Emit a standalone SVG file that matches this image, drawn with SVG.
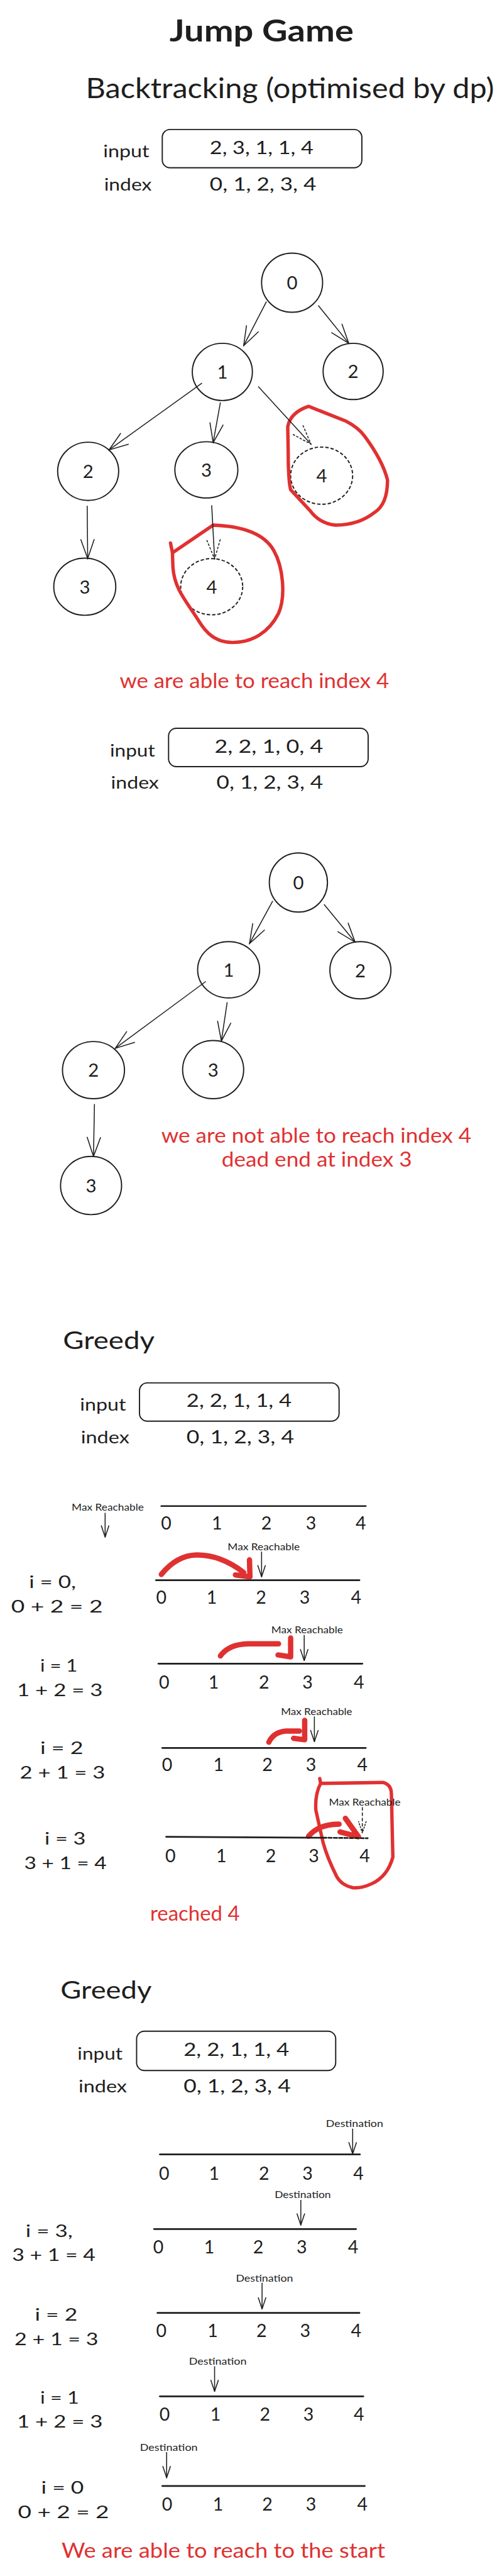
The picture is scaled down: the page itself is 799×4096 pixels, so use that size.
<svg xmlns="http://www.w3.org/2000/svg" width="799" height="4096" viewBox="0 0 799 4096">
<style>
.t{font-family:Lato,"Liberation Sans",sans-serif;fill:#1e1e1e}
.r{fill:#e03131}
.h1{font-size:62px;font-weight:bold}
.h2{font-size:58px}
.h3{font-size:50px}
.lab{font-size:34px}
.val{font-size:38px}
.nd{font-size:38px;text-anchor:middle}
.dg{font-size:37px;text-anchor:middle}
.eq{font-size:35px}
.sm{font-size:20px}
.msg{font-size:42px}
.node{fill:none;stroke:#1e1e1e;stroke-width:2.5}
.dash{stroke-dasharray:7 4}
.box{fill:none;stroke:#1e1e1e;stroke-width:2.5}
.conn{fill:none;stroke:#1e1e1e;stroke-width:2}
.nl{stroke:#1e1e1e;stroke-width:3.5;stroke-linecap:round}
.hl{fill:none;stroke:#e03131;stroke-width:7;stroke-linecap:round;stroke-linejoin:round}
.jump{fill:none;stroke:#e03131;stroke-width:11;stroke-linecap:round;stroke-linejoin:round}
</style>
<defs>
<marker id="ah" viewBox="0 0 44 32" refX="42" refY="16" markerWidth="44" markerHeight="32" orient="auto" markerUnits="userSpaceOnUse"><path d="M2,2 L42,16 L2,30" fill="none" stroke="#1e1e1e" stroke-width="2"/></marker>
<marker id="ahd" viewBox="0 0 44 32" refX="42" refY="16" markerWidth="44" markerHeight="32" orient="auto" markerUnits="userSpaceOnUse"><path d="M2,2 L42,16 L2,30" fill="none" stroke="#1e1e1e" stroke-width="2" stroke-dasharray="5 3"/></marker>
<marker id="ahs" viewBox="0 0 26 18" refX="25" refY="9" markerWidth="26" markerHeight="18" orient="auto" markerUnits="userSpaceOnUse"><path d="M1,1 L25,9 L1,17" fill="none" stroke="#1e1e1e" stroke-width="2"/></marker>
<marker id="ahsd" viewBox="0 0 26 18" refX="25" refY="9" markerWidth="26" markerHeight="18" orient="auto" markerUnits="userSpaceOnUse"><path d="M1,1 L25,9 L1,17" fill="none" stroke="#1e1e1e" stroke-width="2" stroke-dasharray="4 2"/></marker>
</defs>
<rect width="799" height="4096" fill="#ffffff"/>
<g transform="scale(0.771)">

<g id="titles">
<text class="t h1" x="540" y="85" text-anchor="middle" textLength="380" lengthAdjust="spacingAndGlyphs">Jump Game</text>
<text class="t h2" x="177" y="202" textLength="843" lengthAdjust="spacingAndGlyphs">Backtracking (optimised by dp)</text>
</g>

<g id="input1">
<rect class="box" x="335" y="267" width="412" height="79" rx="16"/>
<text class="t lab" x="213" y="324" textLength="95" lengthAdjust="spacingAndGlyphs">input</text>
<text class="t val" x="433" y="318" textLength="214" lengthAdjust="spacingAndGlyphs">2, 3, 1, 1, 4</text>
<text class="t lab" x="215" y="393" textLength="98" lengthAdjust="spacingAndGlyphs">index</text>
<text class="t val" x="433" y="393" textLength="220" lengthAdjust="spacingAndGlyphs">0, 1, 2, 3, 4</text>
</g>

<g id="tree1-n0"><ellipse class="node" cx="603" cy="583" rx="63" ry="61"/><text class="t nd" x="603" y="597">0</text></g>
<g id="tree1-n1"><ellipse class="node" cx="459" cy="767" rx="62" ry="59"/><text class="t nd" x="459" y="781">1</text></g>
<g id="tree1-n2"><ellipse class="node" cx="729" cy="766" rx="62" ry="58"/><text class="t nd" x="729" y="780">2</text></g>
<g id="tree1-n3"><ellipse class="node" cx="182" cy="972" rx="63" ry="60"/><text class="t nd" x="182" y="986">2</text></g>
<g id="tree1-n4"><ellipse class="node" cx="426" cy="969" rx="65" ry="58"/><text class="t nd" x="426" y="983">3</text></g>
<g id="tree1-n5"><ellipse class="node dash" cx="664" cy="981" rx="64" ry="59"/><text class="t nd" x="664" y="995">4</text></g>
<g id="tree1-n6"><ellipse class="node" cx="175" cy="1210" rx="64" ry="59"/><text class="t nd" x="175" y="1224">3</text></g>
<g id="tree1-n7"><ellipse class="node dash" cx="437" cy="1210" rx="64" ry="58"/><text class="t nd" x="437" y="1224">4</text></g>

<g id="tree1-highlights">
<path class="hl" d="M637,838 L713,868 Q740,882 753,900 Q790,950 800,990 Q800,1040 773,1057 Q740,1083 693,1083 Q660,1080 640,1053 L600,1010 Q595,990 595,933 L594,880 Q600,850 637,838 Z"/>
<path class="hl" d="M352,1120 L356,1140 L440,1083 C500,1085 545,1100 565,1135 C585,1170 590,1230 575,1265 C555,1305 520,1325 480,1325 C445,1325 425,1305 410,1280 C385,1240 360,1215 357,1170 L356,1140"/>
</g>

<g id="msg1"><text class="t r msg" x="247" y="1419" textLength="556" lengthAdjust="spacingAndGlyphs">we are able to reach index 4</text></g>

<g id="input2">
<rect class="box" x="348" y="1502" width="412" height="79" rx="16"/>
<text class="t lab" x="227" y="1560" textLength="93" lengthAdjust="spacingAndGlyphs">input</text>
<text class="t val" x="443" y="1552" textLength="224" lengthAdjust="spacingAndGlyphs">2, 2, 1, 0, 4</text>
<text class="t lab" x="229" y="1627" textLength="99" lengthAdjust="spacingAndGlyphs">index</text>
<text class="t val" x="447" y="1627" textLength="220" lengthAdjust="spacingAndGlyphs">0, 1, 2, 3, 4</text>
</g>

<g id="tree2-n0"><ellipse class="node" cx="616" cy="1820" rx="60" ry="61"/><text class="t nd" x="616" y="1834">0</text></g>
<g id="tree2-n1"><ellipse class="node" cx="472" cy="2000" rx="64" ry="58"/><text class="t nd" x="472" y="2014">1</text></g>
<g id="tree2-n2"><ellipse class="node" cx="744" cy="2001" rx="63" ry="59"/><text class="t nd" x="744" y="2015">2</text></g>
<g id="tree2-n3"><ellipse class="node" cx="193" cy="2207" rx="64" ry="59"/><text class="t nd" x="193" y="2221">2</text></g>
<g id="tree2-n4"><ellipse class="node" cx="440" cy="2206" rx="63" ry="60"/><text class="t nd" x="440" y="2220">3</text></g>
<g id="tree2-n5"><ellipse class="node" cx="188" cy="2445" rx="63" ry="60"/><text class="t nd" x="188" y="2459">3</text></g>

<g id="msg2">
<text class="t r msg" x="653" y="2357" text-anchor="middle" textLength="640" lengthAdjust="spacingAndGlyphs">we are not able to reach index 4</text>
<text class="t r msg" x="654" y="2406" text-anchor="middle" textLength="393" lengthAdjust="spacingAndGlyphs">dead end at index 3</text>
</g>

<g id="greedy1">
<text class="t h3" x="130" y="2782" textLength="189" lengthAdjust="spacingAndGlyphs">Greedy</text>
<rect class="box" x="288" y="2852" width="412" height="79" rx="16"/>
<text class="t lab" x="165" y="2909" textLength="95" lengthAdjust="spacingAndGlyphs">input</text>
<text class="t val" x="385" y="2902" textLength="217" lengthAdjust="spacingAndGlyphs">2, 2, 1, 1, 4</text>
<text class="t lab" x="167" y="2977" textLength="100" lengthAdjust="spacingAndGlyphs">index</text>
<text class="t val" x="385" y="2977" textLength="222" lengthAdjust="spacingAndGlyphs">0, 1, 2, 3, 4</text>
</g>

<g id="g1-row-init">
<text class="t sm" x="148" y="3116" textLength="149" lengthAdjust="spacingAndGlyphs">Max Reachable</text>
<line class="nl" x1="333" y1="3106" x2="755" y2="3106"/>
<text class="t dg" x="343" y="3155">0</text><text class="t dg" x="448" y="3155">1</text><text class="t dg" x="550" y="3155">2</text><text class="t dg" x="642" y="3155">3</text><text class="t dg" x="745" y="3155">4</text>
</g>

<g id="g1-row-i0">
<text class="t eq" x="60" y="3275" textLength="97" lengthAdjust="spacingAndGlyphs">i = 0,</text>
<text class="t eq" x="23" y="3325" textLength="189" lengthAdjust="spacingAndGlyphs">0 + 2 = 2</text>
<text class="t sm" x="470" y="3197" textLength="149" lengthAdjust="spacingAndGlyphs">Max Reachable</text>
<path class="jump" d="M333,3247 Q365,3208 405,3207 Q455,3206 503,3243 M515,3217 L516,3252 L486,3248"/>
<line class="nl" x1="322" y1="3259" x2="742" y2="3259"/>
<text class="t dg" x="333" y="3308">0</text><text class="t dg" x="437" y="3308">1</text><text class="t dg" x="539" y="3308">2</text><text class="t dg" x="629" y="3308">3</text><text class="t dg" x="735" y="3308">4</text>
</g>

<g id="g1-row-i1">
<text class="t eq" x="83" y="3448" textLength="77" lengthAdjust="spacingAndGlyphs">i = 1</text>
<text class="t eq" x="35" y="3498" textLength="177" lengthAdjust="spacingAndGlyphs">1 + 2 = 3</text>
<text class="t sm" x="560" y="3369" textLength="148" lengthAdjust="spacingAndGlyphs">Max Reachable</text>
<path class="jump" d="M455,3415 Q472,3391 512,3390 L575,3390 M600,3378 L600,3417 L574,3413"/>
<line class="nl" x1="327" y1="3431" x2="748" y2="3431"/>
<text class="t dg" x="339" y="3482">0</text><text class="t dg" x="441" y="3482">1</text><text class="t dg" x="545" y="3482">2</text><text class="t dg" x="635" y="3482">3</text><text class="t dg" x="741" y="3482">4</text>
</g>

<g id="g1-row-i2">
<text class="t eq" x="83" y="3618" textLength="89" lengthAdjust="spacingAndGlyphs">i = 2</text>
<text class="t eq" x="41" y="3668" textLength="176" lengthAdjust="spacingAndGlyphs">2 + 1 = 3</text>
<text class="t sm" x="580" y="3537" textLength="147" lengthAdjust="spacingAndGlyphs">Max Reachable</text>
<path class="jump" d="M555,3593 Q565,3572 590,3570 L618,3570 M629,3548 L629,3588 L606,3585"/>
<line class="nl" x1="335" y1="3605" x2="755" y2="3605"/>
<text class="t dg" x="345" y="3653">0</text><text class="t dg" x="451" y="3653">1</text><text class="t dg" x="552" y="3653">2</text><text class="t dg" x="642" y="3653">3</text><text class="t dg" x="748" y="3653">4</text>
</g>

<g id="g1-row-i3">
<text class="t eq" x="92" y="3804" textLength="85" lengthAdjust="spacingAndGlyphs">i = 3</text>
<text class="t eq" x="50" y="3855" textLength="170" lengthAdjust="spacingAndGlyphs">3 + 1 = 4</text>
<path class="hl" d="M660,3668 L662,3678 L790,3676 Q808,3680 808,3700 L811,3830 Q800,3870 767,3885 Q745,3895 728,3893 Q705,3888 695,3870 Q675,3830 667,3800 L652,3733 Q650,3700 662,3678"/>
<text class="t sm" x="679" y="3724" textLength="148" lengthAdjust="spacingAndGlyphs">Max Reachable</text>
<path class="jump" d="M637,3787 Q658,3762 700,3762 M713,3750 L740,3788 L702,3778"/>
<line class="nl" x1="343" y1="3788" x2="667" y2="3790"/>
<line class="nl dash" x1="667" y1="3790" x2="759" y2="3791"/>
<text class="t dg" x="352" y="3840">0</text><text class="t dg" x="457" y="3840">1</text><text class="t dg" x="559" y="3840">2</text><text class="t dg" x="648" y="3840">3</text><text class="t dg" x="753" y="3840">4</text>
</g>

<g id="msg3"><text class="t r msg" x="310" y="3961" textLength="185" lengthAdjust="spacingAndGlyphs">reached 4</text></g>

<g id="greedy2">
<text class="t h3" x="125" y="4122" textLength="188" lengthAdjust="spacingAndGlyphs">Greedy</text>
<rect class="box" x="282" y="4189" width="411" height="81" rx="16"/>
<text class="t lab" x="160" y="4248" textLength="93" lengthAdjust="spacingAndGlyphs">input</text>
<text class="t val" x="379" y="4240" textLength="218" lengthAdjust="spacingAndGlyphs">2, 2, 1, 1, 4</text>
<text class="t lab" x="162" y="4315" textLength="100" lengthAdjust="spacingAndGlyphs">index</text>
<text class="t val" x="379" y="4315" textLength="221" lengthAdjust="spacingAndGlyphs">0, 1, 2, 3, 4</text>
</g>

<g id="g2-row-dest">
<text class="t sm" x="673" y="4387" textLength="118" lengthAdjust="spacingAndGlyphs">Destination</text>
<line class="nl" x1="330" y1="4443" x2="743" y2="4443"/>
<text class="t dg" x="339" y="4495">0</text><text class="t dg" x="442" y="4495">1</text><text class="t dg" x="545" y="4495">2</text><text class="t dg" x="635" y="4495">3</text><text class="t dg" x="740" y="4495">4</text>
</g>

<g id="g2-row-i3">
<text class="t eq" x="53" y="4613" textLength="97" lengthAdjust="spacingAndGlyphs">i = 3,</text>
<text class="t eq" x="25" y="4663" textLength="172" lengthAdjust="spacingAndGlyphs">3 + 1 = 4</text>
<text class="t sm" x="567" y="4533" textLength="116" lengthAdjust="spacingAndGlyphs">Destination</text>
<line class="nl" x1="318" y1="4597" x2="735" y2="4597"/>
<text class="t dg" x="327" y="4647">0</text><text class="t dg" x="432" y="4647">1</text><text class="t dg" x="533" y="4647">2</text><text class="t dg" x="623" y="4647">3</text><text class="t dg" x="729" y="4647">4</text>
</g>

<g id="g2-row-i2">
<text class="t eq" x="72" y="4786" textLength="88" lengthAdjust="spacingAndGlyphs">i = 2</text>
<text class="t eq" x="30" y="4836" textLength="173" lengthAdjust="spacingAndGlyphs">2 + 1 = 3</text>
<text class="t sm" x="487" y="4705" textLength="118" lengthAdjust="spacingAndGlyphs">Destination</text>
<line class="nl" x1="325" y1="4770" x2="742" y2="4770"/>
<text class="t dg" x="333" y="4820">0</text><text class="t dg" x="439" y="4820">1</text><text class="t dg" x="540" y="4820">2</text><text class="t dg" x="630" y="4820">3</text><text class="t dg" x="735" y="4820">4</text>
</g>

<g id="g2-row-i1">
<text class="t eq" x="83" y="4957" textLength="80" lengthAdjust="spacingAndGlyphs">i = 1</text>
<text class="t eq" x="35" y="5007" textLength="177" lengthAdjust="spacingAndGlyphs">1 + 2 = 3</text>
<text class="t sm" x="390" y="4877" textLength="119" lengthAdjust="spacingAndGlyphs">Destination</text>
<line class="nl" x1="330" y1="4942" x2="750" y2="4942"/>
<text class="t dg" x="340" y="4992">0</text><text class="t dg" x="445" y="4992">1</text><text class="t dg" x="547" y="4992">2</text><text class="t dg" x="637" y="4992">3</text><text class="t dg" x="741" y="4992">4</text>
</g>

<g id="g2-row-i0">
<text class="t eq" x="85" y="5143" textLength="88" lengthAdjust="spacingAndGlyphs">i = 0</text>
<text class="t eq" x="37" y="5193" textLength="188" lengthAdjust="spacingAndGlyphs">0 + 2 = 2</text>
<text class="t sm" x="289" y="5054" textLength="119" lengthAdjust="spacingAndGlyphs">Destination</text>
<line class="nl" x1="335" y1="5127" x2="753" y2="5127"/>
<text class="t dg" x="345" y="5178">0</text><text class="t dg" x="450" y="5178">1</text><text class="t dg" x="552" y="5178">2</text><text class="t dg" x="642" y="5178">3</text><text class="t dg" x="748" y="5178">4</text>
</g>

<g id="msg4"><text class="t r msg" x="127" y="5275" textLength="668" lengthAdjust="spacingAndGlyphs">We are able to reach to the start</text></g>

<g id="connectors">
<line class="conn" x1="550" y1="622" x2="503" y2="713" marker-end="url(#ah)"/>
<line class="conn" x1="657" y1="630" x2="720" y2="708" marker-end="url(#ah)"/>
<line class="conn" x1="417" y1="790" x2="225" y2="928" marker-end="url(#ah)"/>
<line class="conn" x1="455" y1="830" x2="440" y2="913" marker-end="url(#ah)"/>
<line class="conn" x1="533" y1="797" x2="642" y2="916" marker-end="url(#ahd)"/>
<line class="conn" x1="180" y1="1043" x2="181" y2="1152" marker-end="url(#ah)"/>
<line class="conn" x1="437" y1="1042" x2="443" y2="1153" marker-end="url(#ahd)"/>
<line class="conn" x1="563" y1="1858" x2="515" y2="1946" marker-end="url(#ah)"/>
<line class="conn" x1="669" y1="1865" x2="733" y2="1943" marker-end="url(#ah)"/>
<line class="conn" x1="425" y1="2024" x2="238" y2="2162" marker-end="url(#ah)"/>
<line class="conn" x1="469" y1="2067" x2="457" y2="2147" marker-end="url(#ah)"/>
<line class="conn" x1="195" y1="2277" x2="193" y2="2385" marker-end="url(#ah)"/>
<line class="conn" x1="217" y1="3120" x2="217" y2="3170" marker-end="url(#ahs)"/>
<line class="conn" x1="540" y1="3200" x2="540" y2="3252" marker-end="url(#ahs)"/>
<line class="conn" x1="628" y1="3372" x2="628" y2="3425" marker-end="url(#ahs)"/>
<line class="conn" x1="649" y1="3540" x2="649" y2="3592" marker-end="url(#ahs)"/>
<line class="conn dash" x1="748" y1="3727" x2="748" y2="3780" marker-end="url(#ahsd)"/>
<line class="conn" x1="728" y1="4390" x2="728" y2="4442" marker-end="url(#ahs)"/>
<line class="conn" x1="621" y1="4537" x2="621" y2="4589" marker-end="url(#ahs)"/>
<line class="conn" x1="541" y1="4708" x2="541" y2="4762" marker-end="url(#ahs)"/>
<line class="conn" x1="443" y1="4880" x2="443" y2="4932" marker-end="url(#ahs)"/>
<line class="conn" x1="344" y1="5057" x2="344" y2="5110" marker-end="url(#ahs)"/>
</g>

</g>
</svg>
